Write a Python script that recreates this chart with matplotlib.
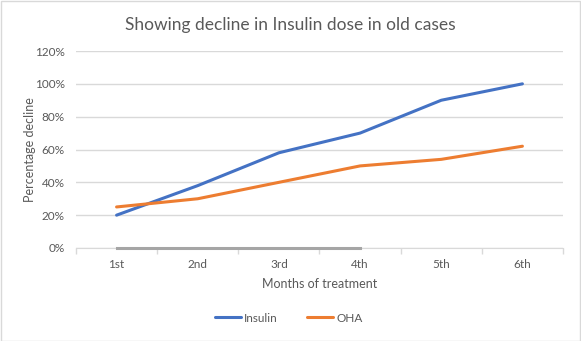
import matplotlib
matplotlib.use("Agg")
import matplotlib.pyplot as plt
from matplotlib.patches import Rectangle
from matplotlib.ticker import FuncFormatter

months = ["1st", "2nd", "3rd", "4th", "5th", "6th"]
insulin = [20, 38, 58, 70, 90, 100]
oha = [25, 30, 40, 50, 54, 62]
zero_series = [0, 0, 0, 0]
y_ticks = [0, 20, 40, 60, 80, 100, 120]

plt.rcParams['font.family'] = ['Lato', 'DejaVu Sans']
txt = '#595959'
grid = '#D9D9D9'

W, H = 581, 341
fig = plt.figure(figsize=(W / 100, H / 100), dpi=100)
fig.patches.append(Rectangle((0.5 / W, 0.5 / H), 1 - 1.5 / W, 1 - 1.5 / H,
                             transform=fig.transFigure, fill=False,
                             edgecolor=grid, linewidth=1))

left, right, top, bottom = 76, 563, 51, 248
ax = fig.add_axes([left / W, 1 - bottom / H, (right - left) / W, (bottom - top) / H])

x = list(range(len(months)))
ax.plot(x, insulin, color='#4472C4', linewidth=2.2, label='Insulin', solid_capstyle='round', zorder=4)
ax.plot(x, oha, color='#ED7D31', linewidth=2.2, label='OHA', solid_capstyle='round', zorder=4)
ax.plot(x[:len(zero_series)], zero_series, color='#A5A5A5', linewidth=2.2, zorder=3, clip_on=False)

ax.set_xlim(-0.5, len(months) - 0.5)
ax.set_ylim(0, 120)
ax.set_yticks(y_ticks)
ax.yaxis.set_major_formatter(FuncFormatter(lambda v, p: f"{int(v)}%"))
ax.grid(axis='y', color=grid, linewidth=1)
ax.set_axisbelow(True)

ax.set_xticks(x)
ax.set_xticklabels(months)
ax.set_xticks([i - 0.5 for i in range(len(months) + 1)], minor=True)
ax.tick_params(axis='x', which='major', length=0, pad=8, labelsize=8.5, labelcolor=txt)
ax.tick_params(axis='x', which='minor', length=4, color=grid, width=1)
ax.tick_params(axis='y', length=0, pad=8, labelsize=8.5, labelcolor=txt)

for s in ['top', 'right', 'left']:
    ax.spines[s].set_visible(False)
ax.spines['bottom'].set_color(grid)
ax.spines['bottom'].set_zorder(1)

ax.set_xlabel("Months of treatment", fontsize=9, color=txt, labelpad=6)
ax.set_ylabel("Percentage decline", fontsize=9, color=txt)
ax.yaxis.set_label_coords((36 - left) / (right - left), 0.5)

fig.text(0.5, 1 - 25 / H, "Showing decline in Insulin dose in old cases",
         ha='center', va='center', fontsize=12.5, color=txt)

leg = ax.legend(loc='center', bbox_to_anchor=(289 / W, 1 - 318 / H), bbox_transform=fig.transFigure,
                ncol=2, frameon=False, fontsize=8.5, handlelength=2.2, handletextpad=0.3,
                columnspacing=2.5, labelcolor=txt)

fig.savefig("out.png", dpi=100)
